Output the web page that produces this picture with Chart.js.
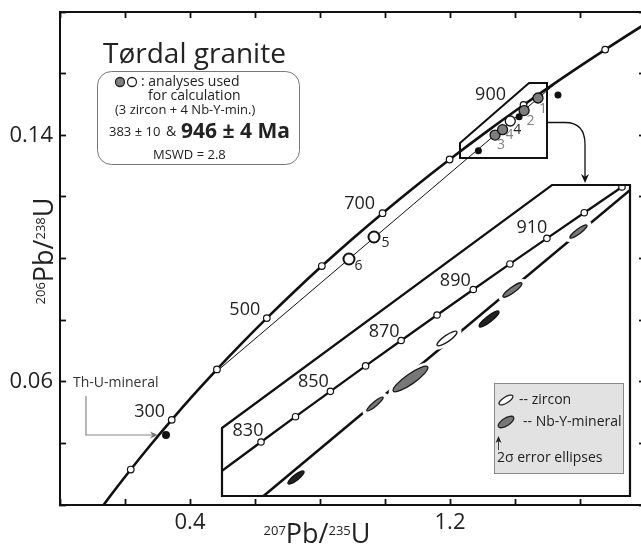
<!DOCTYPE html>
<html><head><meta charset="utf-8">
<script src="https://cdn.jsdelivr.net/npm/chart.js@4.4.1/dist/chart.umd.min.js"></script>
<style>
html,body{margin:0;padding:0;background:#fff;overflow:hidden;width:641px;height:545px}
#wrap{position:absolute;left:0;top:0;width:660px;height:545px}
</style></head>
<body><div id="wrap"><canvas id="c" width="660" height="545"></canvas></div>
<script>
// ---------------- DATA ----------------
// Concordia curve (main panel): age (Ma), 207Pb/235U, 206Pb/238U
const concordiaAge = [100,150,200,250,300,350,400,450,500,550,600,650,700,750,800,850,900,950,1000,1050,1100];
const concordia207 = [0.10350,0.15920,0.21771,0.27917,0.34374,0.41156,0.48281,0.55766,0.63628,0.71887,0.80563,0.89677,0.99251,1.09308,1.19873,1.30971,1.42629,1.54876,1.67741,1.81255,1.95452];
const concordia206 = [0.015633,0.023542,0.031511,0.039543,0.047637,0.055794,0.064016,0.072300,0.080650,0.089064,0.097544,0.106090,0.114702,0.123382,0.132129,0.140944,0.149828,0.158781,0.167804,0.176897,0.186061];
const concordiaMarkAges = [200,300,400,500,600,700,800,900,1000];
const concordiaLabelAges = [300,500,700,900];

// Concordia segment shown in the enlarged inset
const insetAge = [810,820,830,840,850,860,870,880,890,900,910,920,930,940,950];
const inset207 = [1.22049,1.24247,1.26466,1.28707,1.30971,1.33257,1.35566,1.37897,1.40252,1.42629,1.45031,1.47456,1.49905,1.52378,1.54876];
const inset206 = [0.133887,0.135647,0.137410,0.139176,0.140944,0.142716,0.144490,0.146266,0.148046,0.149828,0.151613,0.153401,0.155192,0.156985,0.158781];
const insetMarkAges = [830,840,850,860,870,880,890,900,910,920,930];
const insetLabelAges = [830,850,870,890,910];

// Discordia: lower and upper intercepts (383 ± 10 & 946 ± 4 Ma)
const discordiaAge = [383, 946];
const discordia207 = [0.45820, 1.53874];
const discordia206 = [0.061214, 0.158062];

// Analyses
const nbyLabel = ['1','2','3','4'];
const nby207 = [1.47083, 1.42797, 1.33869, 1.36174];
const nby206 = [0.152089, 0.148010, 0.140060, 0.141803];
const zirconLabel = ['4','5','6'];
const zircon207 = [1.38544, 0.9662, 0.8892];
const zircon206 = [0.144628, 0.10698, 0.09984];
const excluded207 = [1.41271, 1.28739, 1.5323];
const excluded206 = [0.145987, 0.134934, 0.15307];
const thu207 = [0.3262];
const thu206 = [0.04272];

// Axis tick labels
const xTickLabels = [0.4, 1.2];
const yTickLabels = [0.06, 0.14];

// Outlined regions (data coordinates)
const zoomBox207 = [1.2308, 1.4431, 1.4985, 1.4985, 1.2308];
const zoomBox206 = [0.13749, 0.15697, 0.15697, 0.13262, 0.13262];
const insetFrame207 = [1.239336, 1.453622, 1.504271, 1.504271, 1.239336];
const insetFrame206 = [0.138386, 0.155332, 0.155332, 0.133644, 0.133644];

// ---------------- STYLE ----------------
const FONT = "'Open Sans', 'DejaVu Sans', sans-serif";
const NBY_ELLIPSE = [[10.5,2.5,37],[11.5,2.8,36],[10.5,2.2,40],[21,5,35]];
const ZIRCON_ELLIPSE = [[12,3.2,35], null, null];
const EXCL_ELLIPSE = [[12.5,3,38],[10,2.8,38], null];
const NBY_LABEL_OFF = [[5,11],[6.5,10.5],[6,10],[7,5.5]];
const ZIRCON_LABEL_OFF = [[7,9],[11.5,6.5],[9.5,7.5]];
const CONC_LABEL_OFF = {300:[-22,-8],500:[-22,-8],700:[-23,-9],900:[-33,-10]};
const INSET_LABEL_OFF = {830:[-13,-11],850:[-17,-9],870:[-17,-8.5],890:[-18,-8.5],910:[-15,-10]};

const pts = (xs, ys) => xs.map((x, i) => ({x, y: ys[i]}));
const pick = (ages, allAges, xs, ys) => ages.map(a => { const i = allAges.indexOf(a); return {x: xs[i], y: ys[i]}; });
const near = (list, v) => list.some(t => Math.abs(t - v) < 1e-6);

const tickGrid = {drawOnChartArea:false, drawTicks:true, tickLength:-6, tickWidth:1.8, tickColor:'#111'};
const frame = {display:true, width:2, color:'#111'};
const noPad = s => { s.paddingTop = 0; s.paddingBottom = 0; s.paddingLeft = 0; s.paddingRight = 0; };

// ---------------- HELPERS ----------------
function polyPath(ctx, xs, ys, sx, sy){
  ctx.beginPath();
  xs.forEach((v,i)=>{ const px=sx.getPixelForValue(v), py=sy.getPixelForValue(ys[i]); i?ctx.lineTo(px,py):ctx.moveTo(px,py); });
  ctx.closePath();
}
function txt(ctx, s, x, y, o={}){
  ctx.save();
  ctx.font = (o.weight||'normal')+' '+(o.size||14)+'px '+FONT;
  ctx.fillStyle = o.color||'#222';
  ctx.textAlign = o.align||'left';
  ctx.textBaseline = o.baseline||'middle';
  ctx.fillText(s, x, y);
  ctx.restore();
}
function arrowHead(ctx, x, y, ang, len, wid, color){
  ctx.save(); ctx.translate(x,y); ctx.rotate(ang);
  ctx.beginPath(); ctx.moveTo(0,0); ctx.lineTo(-len, -wid); ctx.lineTo(-len*0.7,0); ctx.lineTo(-len, wid); ctx.closePath();
  ctx.fillStyle=color; ctx.fill(); ctx.restore();
}
function ellipse(ctx, x, y, a, b, deg, fill, stroke, lw){
  ctx.save(); ctx.beginPath(); ctx.ellipse(x, y, a, b, -deg*Math.PI/180, 0, Math.PI*2);
  if (fill){ ctx.fillStyle=fill; ctx.fill(); }
  if (stroke){ ctx.strokeStyle=stroke; ctx.lineWidth=lw||1.2; ctx.stroke(); }
  ctx.restore();
}
function isoLabel(ctx, parts, x, y, rot){
  ctx.save(); ctx.translate(x,y); ctx.rotate(rot);
  let w=0; parts.forEach(p=>{ ctx.font=p[1]+'px '+FONT; w+=ctx.measureText(p[0]).width; });
  let cx=-w/2; ctx.fillStyle='#222'; ctx.textBaseline='alphabetic'; ctx.textAlign='left';
  parts.forEach(p=>{ ctx.font=p[1]+'px '+FONT; ctx.fillText(p[0], cx, -p[2]); cx+=ctx.measureText(p[0]).width; });
  ctx.restore();
}

// ---------------- PLUGIN ----------------
const decor = {
  id:'decor',
  beforeDatasetsDraw(chart){
    const {ctx, scales:{x2,y2}} = chart;
    ctx.save(); polyPath(ctx, insetFrame207, insetFrame206, x2, y2); ctx.fillStyle='#fff'; ctx.fill(); ctx.restore();
  },
  beforeDatasetDraw(chart, args){
    if (args.meta.xAxisID === 'x2'){
      const {ctx, scales:{x2,y2}} = chart;
      ctx.save(); polyPath(ctx, insetFrame207, insetFrame206, x2, y2); ctx.clip();
    }
  },
  afterDatasetDraw(chart, args){
    if (args.meta.xAxisID === 'x2') chart.ctx.restore();
  },
  afterDatasetsDraw(chart){
    const {ctx, scales:{x,y,x2,y2}} = chart;
    // ---- inset ellipses (clipped) ----
    ctx.save(); polyPath(ctx, insetFrame207, insetFrame206, x2, y2); ctx.clip();
    const used = [];
    nby207.forEach((v,i)=>{ if(NBY_ELLIPSE[i]) used.push([v,nby206[i],NBY_ELLIPSE[i],'#777','#1a1a1a',true]); });
    zircon207.forEach((v,i)=>{ if(ZIRCON_ELLIPSE[i]) used.push([v,zircon206[i],ZIRCON_ELLIPSE[i],'#fff','#1a1a1a',true]); });
    excluded207.forEach((v,i)=>{ if(EXCL_ELLIPSE[i]) used.push([v,excluded206[i],EXCL_ELLIPSE[i],'#222','#111',false]); });
    used.forEach(e=>{ if(e[5]){ const px=x2.getPixelForValue(e[0]), py=y2.getPixelForValue(e[1]);
      ellipse(ctx, px, py, e[2][0]+5, e[2][1]+3.5, e[2][2], '#fff'); }});
    used.forEach(e=>{ const px=x2.getPixelForValue(e[0]), py=y2.getPixelForValue(e[1]);
      ellipse(ctx, px, py, e[2][0], e[2][1], e[2][2], e[3], e[4], 1.3); });
    ctx.restore();
    // inset frame
    ctx.save(); polyPath(ctx, insetFrame207, insetFrame206, x2, y2); ctx.strokeStyle='#111'; ctx.lineWidth=2.2; ctx.lineJoin='miter'; ctx.stroke(); ctx.restore();
    // zoom box in main panel
    ctx.save(); polyPath(ctx, zoomBox207, zoomBox206, x, y); ctx.strokeStyle='#111'; ctx.lineWidth=2; ctx.stroke(); ctx.restore();
    // curved arrow from zoom box to inset
    const bx = x.getPixelForValue(zoomBox207[2]);
    const by = (y.getPixelForValue(zoomBox206[2]) + y.getPixelForValue(zoomBox206[3]))/2 + 2;
    const ax = bx + 38, ayEnd = y2.getPixelForValue(insetFrame206[1]) - 2;
    ctx.save(); ctx.strokeStyle='#111'; ctx.lineWidth=1.3; ctx.beginPath();
    ctx.moveTo(bx, by); ctx.lineTo(ax-20, by); ctx.quadraticCurveTo(ax, by, ax, by+22); ctx.lineTo(ax, ayEnd-6); ctx.stroke(); ctx.restore();
    arrowHead(ctx, ax, ayEnd, Math.PI/2, 9, 4, '#111');

    // ---- age labels ----
    concordiaLabelAges.forEach(a=>{ const i=concordiaAge.indexOf(a), o=CONC_LABEL_OFF[a];
      txt(ctx, String(a), x.getPixelForValue(concordia207[i])+o[0], y.getPixelForValue(concordia206[i])+o[1], {size:18, align:'center', color:'#222'}); });
    insetLabelAges.forEach(a=>{ const i=insetAge.indexOf(a), o=INSET_LABEL_OFF[a];
      txt(ctx, String(a), x2.getPixelForValue(inset207[i])+o[0], y2.getPixelForValue(inset206[i])+o[1], {size:18, align:'center', color:'#222'}); });
    // analysis numbers
    nbyLabel.forEach((l,i)=>{ const o=NBY_LABEL_OFF[i];
      txt(ctx, l, x.getPixelForValue(nby207[i])+o[0], y.getPixelForValue(nby206[i])+o[1], {size:14, align:'center', color:'#808080'}); });
    zirconLabel.forEach((l,i)=>{ const o=ZIRCON_LABEL_OFF[i];
      txt(ctx, l, x.getPixelForValue(zircon207[i])+o[0], y.getPixelForValue(zircon206[i])+o[1], {size:14, align:'center', color:'#222'}); });

    // ---- Th-U-mineral annotation ----
    const L = chart.chartArea.left;
    txt(ctx, 'Th-U-mineral', L+13, 383, {size:14, color:'#333'});
    const tx = x.getPixelForValue(thu207[0]), ty = y.getPixelForValue(thu206[0]);
    ctx.save(); ctx.strokeStyle='#888'; ctx.lineWidth=1.2; ctx.beginPath();
    ctx.moveTo(L+26, 396); ctx.lineTo(L+26, ty); ctx.lineTo(tx-14, ty); ctx.stroke(); ctx.restore();
    arrowHead(ctx, tx-8, ty, 0, 8, 3.5, '#777');

    // ---- title & info box ----
    txt(ctx, 'Tørdal granite', 103, 63, {size:28, baseline:'alphabetic', color:'#222'});
    ctx.save(); ctx.beginPath(); ctx.roundRect(97.5, 71.5, 202, 93, 14); ctx.strokeStyle='#777'; ctx.lineWidth=1; ctx.stroke(); ctx.restore();
    ellipse(ctx, 120, 82, 4.5, 4.5, 0, '#808080', '#222', 1.3);
    ellipse(ctx, 132, 82, 4.5, 4.5, 0, '#fff', '#222', 1.3);
    txt(ctx, ': analyses used', 141, 82, {size:14});
    txt(ctx, 'for calculation', 148, 96, {size:14});
    txt(ctx, '(3 zircon + 4 Nb-Y-min.)', 115, 110, {size:13});
    txt(ctx, '383 ± 10', 109, 132, {size:13});
    txt(ctx, '&', 166, 132, {size:14});
    txt(ctx, '946 ± 4 Ma', 181, 132, {size:21, weight:'bold'});
    txt(ctx, 'MSWD = 2.8', 153, 155, {size:13});

    // ---- legend box ----
    ctx.save(); ctx.fillStyle='#e2e2e2'; ctx.strokeStyle='#888'; ctx.lineWidth=1;
    ctx.fillRect(494.5,383.5,129,90); ctx.strokeRect(494.5,383.5,129,90); ctx.restore();
    ellipse(ctx, 506, 400, 8, 3, 32, '#fff', '#222', 1.3);
    txt(ctx, '-- zircon', 519, 400, {size:14});
    ellipse(ctx, 506, 422, 9, 3.8, 32, '#777', '#222', 1.3);
    txt(ctx, '-- Nb-Y-mineral', 523, 422, {size:14});
    ctx.save(); ctx.strokeStyle='#444'; ctx.lineWidth=1; ctx.beginPath(); ctx.moveTo(498.5,450); ctx.lineTo(498.5,441); ctx.stroke(); ctx.restore();
    arrowHead(ctx, 498.5, 436, -Math.PI/2, 7, 3, '#222');
    txt(ctx, '2σ error ellipses', 497, 458, {size:14});

    // ---- axis titles ----
    isoLabel(ctx, [['207',13,8],['Pb/',27,0],['235',13,8],['U',27,0]], 317, 543, 0);
    isoLabel(ctx, [['206',13,8],['Pb/',27,0],['238',13,8],['U',27,0]], 53, 251, -Math.PI/2);
  }
};

// ---------------- CHART ----------------
const lineDS = (data, xa, ya, w, order) => ({data, xAxisID:xa, yAxisID:ya, showLine:true, borderColor:'#111', borderWidth:w,
  pointRadius:0, pointHoverRadius:0, fill:false, cubicInterpolationMode:'monotone', order});
const dotDS = (data, xa, ya, r, bg, bw, order) => ({data, xAxisID:xa, yAxisID:ya, showLine:false, pointRadius:r, pointHoverRadius:r,
  pointBackgroundColor:bg, pointBorderColor:'#111', pointBorderWidth:bw, order});

new Chart(document.getElementById('c'), {
  type:'scatter',
  data:{datasets:[
    lineDS(pts(concordia207, concordia206), 'x','y', 2.6, 20),
    lineDS(pts(discordia207, discordia206), 'x','y', 1, 19),
    dotDS(pick(concordiaMarkAges, concordiaAge, concordia207, concordia206), 'x','y', 3.3, '#fff', 1.2, 10),
    dotDS(pts(excluded207, excluded206), 'x','y', 3.5, '#111', 0, 6),
    dotDS(pts(thu207, thu206), 'x','y', 4, '#111', 0, 6),
    dotDS(pts(zircon207, zircon206), 'x','y', [5,5.5,5.5], '#fff', [1.3,2,2], 4),
    dotDS(pts(nby207, nby206), 'x','y', 5, '#7d7d7d', 1.3, 3),
    lineDS(pts(inset207, inset206), 'x2','y2', 2.3, 18),
    lineDS(pts(discordia207, discordia206), 'x2','y2', 2.6, 17),
    dotDS(pick(insetMarkAges, insetAge, inset207, inset206), 'x2','y2', 3.2, '#fff', 1.2, 9),
  ]},
  options:{
    responsive:false, animation:false, devicePixelRatio:1, events:[],
    layout:{padding:{left:0, right:15, top:12, bottom:0}},
    plugins:{legend:{display:false}, tooltip:{enabled:false}},
    scales:{
      x:{type:'linear', position:'bottom', min:0, max:1.8,
        ticks:{stepSize:0.2, autoSkip:false, maxRotation:0, padding:11, color:'#222', font:{family:FONT, size:22},
          callback:v=> near(xTickLabels, v) ? v.toFixed(1) : ''},
        grid:tickGrid, border:frame, afterFit:s=>{noPad(s); s.height=40;}},
      xTop:{type:'linear', position:'top', min:0, max:1.8, ticks:{stepSize:0.2, display:false},
        grid:tickGrid, border:frame, afterFit:s=>{noPad(s); s.height=0;}},
      y:{type:'linear', position:'left', min:0.02, max:0.18,
        ticks:{stepSize:0.02, autoSkip:false, padding:13, color:'#222', font:{family:FONT, size:22},
          callback:v=> near(yTickLabels, v) ? v.toFixed(2) : ''},
        grid:tickGrid, border:frame, afterFit:s=>{noPad(s); s.width=60;}},
      yRight:{type:'linear', position:'right', min:0.02, max:0.18, ticks:{stepSize:0.02, display:false},
        grid:tickGrid, border:frame, afterFit:s=>{noPad(s); s.width=0;}},
      x2:{type:'linear', display:false, min:1.134141, max:1.514011},
      y2:{type:'linear', display:false, min:0.133017, max:0.167396}
    }
  },
  plugins:[decor]
});
</script></body></html>
